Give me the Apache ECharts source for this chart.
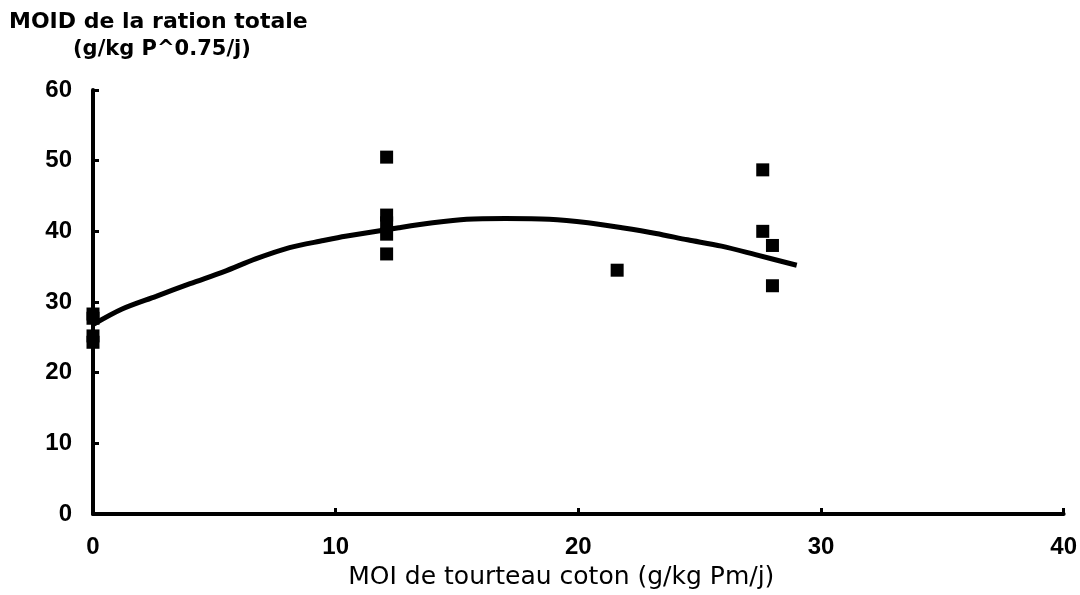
<!DOCTYPE html>
<html>
<head>
<meta charset="utf-8">
<style>
  html, body { margin: 0; padding: 0; background: #fff; }
  #chart { width: 1080px; height: 595px; }
</style>
<script src="https://cdn.jsdelivr.net/npm/echarts@6/dist/echarts.min.js"></script>
</head>
<body>
<div id="chart"></div>
<script>
// Observed intake: cottonseed-cake MOI (x) vs total ration MOID (y)
const obsX = [0, 0, 0, 0, 12.1, 12.1, 12.1, 12.1, 12.1, 21.6, 27.6, 27.6, 28.0, 28.0];
const obsY = [28.3, 27.7, 25.2, 24.3, 50.5, 42.3, 41.2, 39.6, 36.8, 34.5, 48.7, 40.0, 38.0, 32.3];

// Fitted response curve
const fitX = [0, 1.2, 2.6, 4.0, 5.4, 6.7, 8.1, 9.5, 10.4, 12.6, 14.0, 15.4, 17.0, 18.8, 20.4, 21.8, 23.2, 24.5, 25.9, 27.3, 29.0];
const fitY = [26.8, 29.0, 30.8, 32.6, 34.3, 36.1, 37.7, 38.7, 39.3, 40.5, 41.2, 41.7, 41.8, 41.7, 41.2, 40.5, 39.7, 38.8, 37.9, 36.7, 35.2];

// Axis texts
const yTitle1 = 'MOID de la ration totale';
const yTitle2 = '(g/kg P^0.75/j)';
const xTitle = 'MOI de tourteau coton (g/kg Pm/j)';

const chart = echarts.init(document.getElementById('chart'), null, { renderer: 'canvas' });

const axisCommon = {
  axisLine: { show: true, lineStyle: { color: '#000', width: 4 } },
  axisTick: { show: true, inside: true, length: 6, lineStyle: { color: '#000', width: 3 } },
  splitLine: { show: false },
  axisLabel: {
    color: '#000',
    fontFamily: 'Liberation Sans',
    fontWeight: 'bold',
    fontSize: 24
  }
};

chart.setOption({
  backgroundColor: '#ffffff',
  animation: false,
  title: [
    {
      text: yTitle1, left: 9, top: 11, padding: 0,
      textStyle: { fontFamily: 'DejaVu Sans', fontWeight: 'bold', fontSize: 22, color: '#000' }
    },
    {
      text: yTitle2, left: 73, top: 39, padding: 0,
      textStyle: { fontFamily: 'DejaVu Sans', fontWeight: 'bold', fontSize: 21, color: '#000' }
    }
  ],
  grid: { left: 93, right: 13, top: 90, bottom: 80, containLabel: false },
  xAxis: Object.assign({}, axisCommon, {
    type: 'value',
    min: 0, max: 40, interval: 10,
    name: xTitle,
    nameLocation: 'middle',
    nameGap: 51,
    nameTextStyle: {
      color: '#000', fontFamily: 'DejaVu Sans', fontSize: 25,
      padding: [0, 34, 0, 0]
    },
    axisLabel: Object.assign({}, axisCommon.axisLabel, { margin: 21 })
  }),
  yAxis: Object.assign({}, axisCommon, {
    type: 'value',
    min: 0, max: 60, interval: 10,
    axisLabel: Object.assign({}, axisCommon.axisLabel, { margin: 21 })
  }),
  series: [
    {
      type: 'line',
      data: fitX.map((x, i) => [x, fitY[i]]),
      smooth: 0.3,
      showSymbol: false,
      lineStyle: { color: '#000', width: 5 },
      z: 2
    },
    {
      type: 'scatter',
      data: obsX.map((x, i) => [x, obsY[i]]),
      symbol: 'rect',
      symbolSize: 13,
      itemStyle: { color: '#000', opacity: 1 },
      z: 3
    }
  ]
});
</script>
</body>
</html>
